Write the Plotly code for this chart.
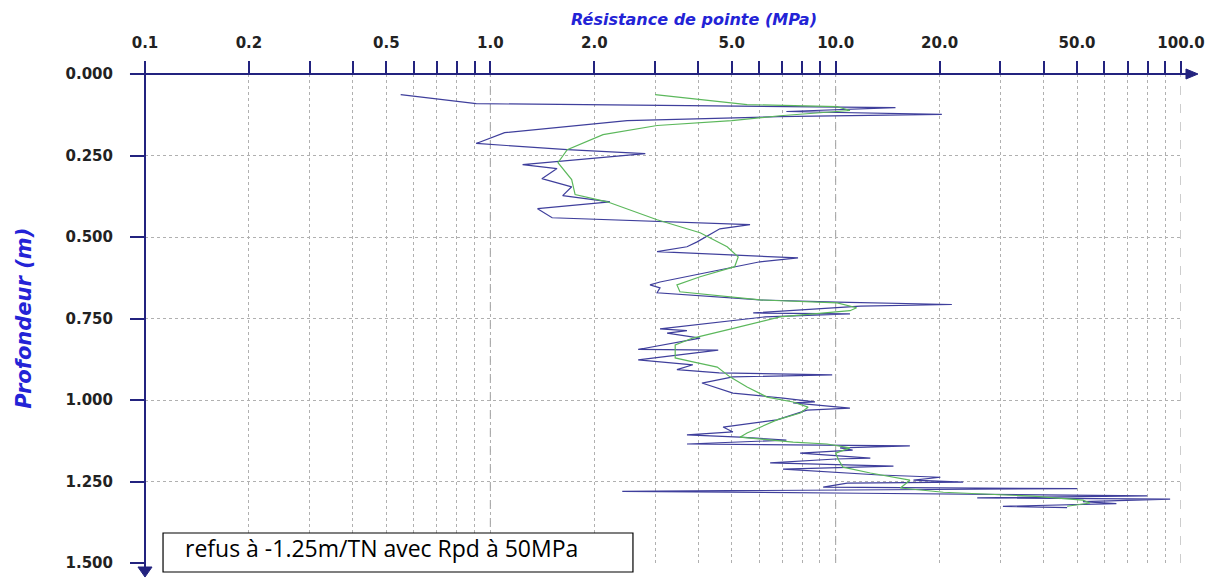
import plotly.graph_objects as go

# Raw penetrometer readings (blue): depth (m) and resistance (MPa)
raw_depth = [0.063, 0.091, 0.103, 0.115, 0.124, 0.131, 0.143, 0.180, 0.213, 0.232,
             0.244, 0.278, 0.290, 0.321, 0.346, 0.373, 0.392, 0.413, 0.441, 0.462,
             0.475, 0.496, 0.515, 0.530, 0.545, 0.564, 0.576, 0.638, 0.647, 0.656,
             0.671, 0.693, 0.700, 0.707, 0.712, 0.733, 0.736, 0.745, 0.776, 0.782,
             0.787, 0.795, 0.810, 0.845, 0.847, 0.877, 0.892, 0.907, 0.917, 0.923,
             0.929, 0.948, 0.979, 0.994, 1.006, 1.009, 1.025, 1.031, 1.061, 1.083,
             1.098, 1.107, 1.114, 1.123, 1.135, 1.141, 1.147, 1.154, 1.163, 1.178,
             1.181, 1.193, 1.203, 1.212, 1.230, 1.237, 1.246, 1.252, 1.255, 1.267,
             1.272, 1.280, 1.286, 1.294, 1.300, 1.304, 1.312, 1.318, 1.326, 1.330]
raw_rpd = [0.55, 0.91, 14.9, 7.2, 20.3, 6.8, 2.49, 1.10, 0.91, 1.67,
           2.81, 1.24, 1.56, 1.41, 1.72, 1.62, 2.22, 1.37, 1.51, 5.65,
           4.62, 4.27, 3.97, 3.71, 3.04, 7.78, 6.04, 3.10, 2.90, 3.10,
           3.04, 6.04, 10.1, 21.7, 11.8, 5.77, 11.0, 6.25, 3.47, 3.10,
           3.71, 3.25, 4.05, 2.68, 4.57, 2.68, 3.86, 3.47, 4.60, 9.77,
           5.04, 4.10, 5.04, 7.04, 8.71, 7.53, 11.0, 8.26, 6.76, 4.72,
           5.04, 3.71, 5.28, 7.20, 3.71, 16.4, 10.3, 11.2, 7.89, 12.6,
           10.0, 6.46, 14.7, 7.04, 13.4, 20.1, 16.8, 23.4, 10.8, 9.2,
           50.0, 2.41, 11.8, 79.8, 25.7, 93.0, 52.0, 65.0, 30.5, 46.8]

# Smoothed curve (green)
smooth_depth = [0.063, 0.094, 0.100, 0.112, 0.128, 0.143, 0.158, 0.186, 0.232, 0.272,
                0.324, 0.370, 0.392, 0.447, 0.487, 0.530, 0.561, 0.591, 0.622, 0.647,
                0.668, 0.693, 0.702, 0.717, 0.726, 0.745, 0.785, 0.810, 0.831, 0.871,
                0.883, 0.899, 0.929, 0.960, 0.991, 1.006, 1.022, 1.040, 1.061, 1.101,
                1.114, 1.129, 1.135, 1.147, 1.163, 1.184, 1.206, 1.224, 1.246, 1.270,
                1.283, 1.295, 1.307, 1.316, 1.326]
smooth_rpd = [3.0, 5.54, 10.1, 11.0, 6.9, 5.0, 3.04, 2.12, 1.67, 1.57,
              1.72, 1.76, 2.18, 3.04, 4.05, 4.85, 5.22, 5.1, 4.05, 3.47,
              3.54, 6.04, 10.1, 11.5, 11.0, 6.9, 4.85, 3.86, 3.43, 3.43,
              3.86, 4.54, 4.94, 5.54, 6.33, 7.53, 8.32, 7.9, 6.76, 5.54,
              5.28, 7.53, 9.44, 11.0, 10.0, 10.2, 10.5, 12.6, 16.4, 15.4,
              20.5, 37.3, 52.0, 54.5, 46.8]

x_tick_vals = [0.1, 0.2, 0.3, 0.4, 0.5, 0.6, 0.7, 0.8, 0.9, 1,
               2, 3, 4, 5, 6, 7, 8, 9, 10,
               20, 30, 40, 50, 60, 70, 80, 90, 100]
x_tick_text = ["0.1", "0.2", "", "", "0.5", "", "", "", "", "1.0",
               "2.0", "", "", "5.0", "", "", "", "", "10.0",
               "20.0", "", "", "50.0", "", "", "", "", "100.0"]
y_tick_vals = [0, 0.25, 0.5, 0.75, 1.0, 1.25, 1.5]
y_tick_text = ["0.000", "0.250", "0.500", "0.750", "1.000", "1.250", "1.500"]
decade_lines = [1, 10, 100]

NAVY = "#23237f"
BLUE_LINE = "#3f3f9c"
GREEN_LINE = "#5cb85c"
TITLE_BLUE = "#2323d6"
TICK_FONT = dict(family="DejaVu Sans", size=15, color="#222222", weight="bold")

fig = go.Figure()
fig.add_trace(go.Scatter(x=raw_rpd, y=raw_depth, mode="lines",
                         line=dict(color=BLUE_LINE, width=1.2), showlegend=False))
fig.add_trace(go.Scatter(x=smooth_rpd, y=smooth_depth, mode="lines",
                         line=dict(color=GREEN_LINE, width=1.2), showlegend=False))

shapes = []
for v in decade_lines:
    shapes.append(dict(type="line", xref="x", yref="paper", x0=v, x1=v, y0=0, y1=1,
                       line=dict(color="#9a9a9a", width=1, dash="dash"), layer="below"))
# axis lines with arrows
shapes.append(dict(type="line", xref="paper", yref="paper", x0=-0.0145, x1=1.008, y0=1, y1=1,
                   line=dict(color=NAVY, width=2)))
shapes.append(dict(type="line", xref="paper", yref="paper", x0=0, x1=0, y0=1.0215, y1=-0.012,
                   line=dict(color=NAVY, width=2)))
shapes.append(dict(type="path", xref="paper", yref="paper",
                   path="M 1.0048 1.0102 L 1.0164 1.0 L 1.0048 0.9898 Z",
                   fillcolor=NAVY, line=dict(color=NAVY, width=1)))
shapes.append(dict(type="path", xref="paper", yref="paper",
                   path="M -0.0068 -0.0082 L 0.0068 -0.0082 L 0 -0.0287 Z",
                   fillcolor=NAVY, line=dict(color=NAVY, width=1)))
# note box
shapes.append(dict(type="rect", xref="paper", yref="paper", x0=0.0174, x1=0.471,
                   y0=-0.0184, y1=0.0614, fillcolor="white",
                   line=dict(color="black", width=1.2), layer="above"))

fig.update_layout(
    width=1217, height=585,
    margin=dict(l=137, r=44, t=66, b=30),
    paper_bgcolor="white", plot_bgcolor="white",
    shapes=shapes,
    xaxis=dict(type="log", range=[-1, 2], side="top",
               tickvals=x_tick_vals, ticktext=x_tick_text,
               ticks="outside", ticklen=12, tickwidth=2, tickcolor=NAVY,
               ticklabelstandoff=7, tickfont=TICK_FONT,
               showgrid=True, gridcolor="#b0b0b0", griddash="dot", gridwidth=1,
               showline=False, zeroline=False),
    yaxis=dict(range=[1.5, 0], tickvals=y_tick_vals, ticktext=y_tick_text,
               ticks="outside", ticklen=14, tickwidth=2, tickcolor=NAVY,
               ticklabelstandoff=14, tickfont=TICK_FONT,
               showgrid=True, gridcolor="#b0b0b0", griddash="dot", gridwidth=1,
               showline=False, zeroline=False),
    annotations=[
        dict(text="<b><i>Résistance de pointe (MPa)</i></b>", xref="paper", yref="paper",
             x=0.530, y=1.1115, xanchor="center", yanchor="middle", showarrow=False,
             font=dict(family="DejaVu Sans", size=16, color=TITLE_BLUE)),
        dict(text="<b><i>Profondeur (m)</i></b>", xref="paper", yref="paper",
             x=-0.1168, y=0.5015, xanchor="center", yanchor="middle", showarrow=False,
             textangle=-90,
             font=dict(family="DejaVu Sans", size=21, color=TITLE_BLUE)),
        dict(text="refus à -1.25m/TN avec Rpd à 50MPa", xref="paper", yref="paper",
             x=0.0367, y=0.0307, xanchor="left", yanchor="middle", showarrow=False,
             font=dict(family="Open Sans", size=23, color="black")),
    ],
)

fig.write_html("out.html")
